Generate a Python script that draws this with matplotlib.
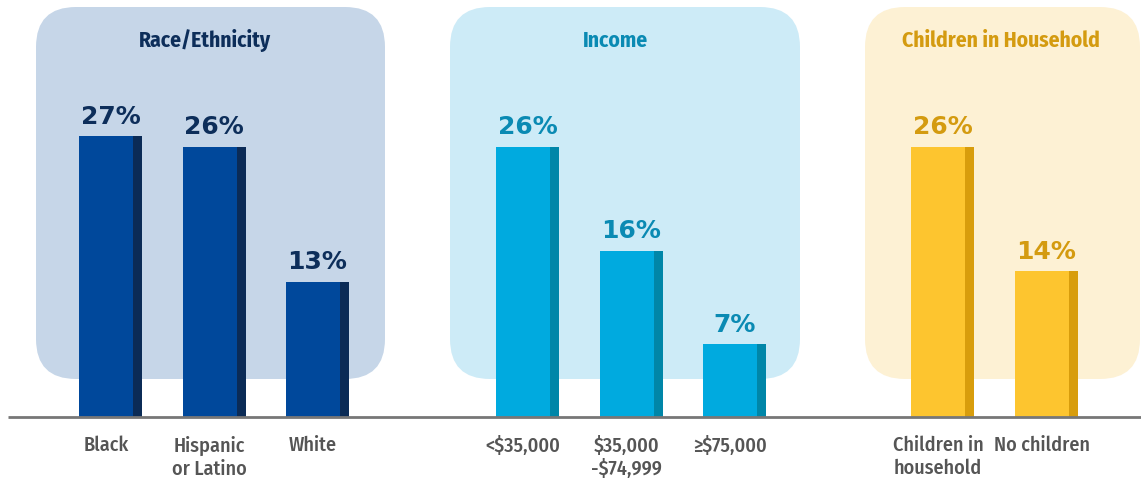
import matplotlib.pyplot as plt
from matplotlib.patches import FancyBboxPatch

# data
groups = ['Race/Ethnicity', 'Income', 'Children in Household']
race_labels = ['Black', 'Hispanic\nor Latino', 'White']
race_values = [27, 26, 13]
income_labels = ['<$35,000', '$35,000\n-$74,999', '\u2265$75,000']
income_values = [26, 16, 7]
kids_labels = ['Children in\nhousehold', 'No children']
kids_values = [26, 14]

# styles per group: panel, bar face, bar side, text
styles = [
    ('#c6d6e8', '#00489b', '#0b2b56', '#0d2e5a'),
    ('#cdebf7', '#00aadf', '#0086a8', '#0a8ab3'),
    ('#fdf1d4', '#fdc52f', '#d89d0c', '#d49b10'),
]

W, H = 1141, 481
base_px = 63          # baseline height from bottom (px)
px_per = 10.4         # px per percentage point
fig = plt.figure(figsize=(W / 100, H / 100), dpi=100)
ax = fig.add_axes([0, 0, 1, 1])
ax.set_xlim(0, W)
ax.set_ylim(-base_px / px_per, (H - base_px) / px_per)
ax.axis('off')

cond = ['Fira Sans Condensed', 'DejaVu Sans']

group_start = [79, 496, 911]
panel_x = [(36, 385), (450, 800), (865, 1140)]
title_dx = [-6, -10, -2]
step = 103.5
face_w, side_w = 54, 9
panel_top = (H - 8 - base_px) / px_per
panel_bot = (H - 380 - base_px) / px_per

all_labels = [race_labels, income_labels, kids_labels]
all_values = [race_values, income_values, kids_values]

for g, (title, labels, values) in enumerate(zip(groups, all_labels, all_values)):
    pc, face, side, tc = styles[g]
    x0, x1 = panel_x[g]
    ax.add_patch(FancyBboxPatch((x0, panel_bot), x1 - x0, panel_top - panel_bot,
                                boxstyle='round,pad=0,rounding_size=40',
                                mutation_aspect=1 / px_per, fc=pc, ec='none', zorder=0))
    ax.text((x0 + x1) / 2 + title_dx[g], (H - 41 - base_px) / px_per, title, ha='center',
            va='center', fontsize=15.5, fontweight='bold', color=tc, family=cond,
            fontstretch='condensed')
    for i, (lab, v) in enumerate(zip(labels, values)):
        left = group_start[g] + i * step
        ax.bar(left, v, width=face_w, align='edge', color=face, zorder=2)
        ax.bar(left + face_w, v, width=side_w, align='edge', color=side, zorder=2)
        ax.text(left + (face_w + side_w) / 2, v + 0.8, f'{v}%', ha='center', va='bottom',
                fontsize=18, fontweight='bold', color=tc, zorder=3)
        ax.text(left + face_w / 2, -18 / px_per, lab, ha='center', va='top',
                fontsize=14.5, fontweight=500, color='#555555', family=cond,
                fontstretch='condensed', linespacing=1.2)

ax.plot([8, W], [0, 0], color='#777777', lw=2, zorder=4, solid_capstyle='butt')

fig.savefig('out.png', dpi=100)
